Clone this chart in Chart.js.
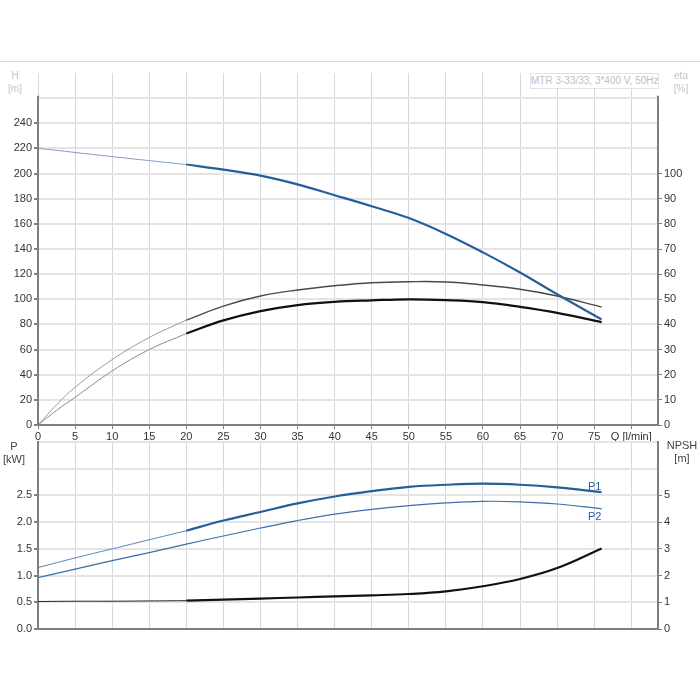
<!DOCTYPE html>
<html>
<head>
<meta charset="utf-8">
<script src="https://cdn.jsdelivr.net/npm/chart.js@4/dist/chart.umd.min.js"></script>
<style>
  body { margin: 0; background: #fff; font-family: 'Liberation Sans', Arial, sans-serif; }
  #page { position: relative; width: 700px; height: 700px; overflow: hidden; }
  #page canvas { position: absolute; left: 0; top: 0; }
  .rule { position: absolute; left: 0; top: 61px; width: 700px; height: 1px; background: #d9d9d9; }
  .ttl { position: absolute; width: 40px; text-align: center; font-size: 10px; line-height: 13px; z-index: 3; }
  .ttl.light { color: #c4c4c4; }
  .ttl.dark  { color: #444; font-size: 11px; }
  .box {
    position: absolute; left: 530px; top: 73px; width: 127px; height: 14px;
    border: 1px solid #e2e2e2; background: #fff; color: #c0c0c0;
    font-size: 10px; line-height: 14px; text-align: center; z-index: 3; white-space: nowrap;
  }
</style>
</head>
<body>
<div id="page">
  <div class="rule"></div>
  <canvas id="qhChart" width="700" height="700"></canvas>
  <canvas id="powerChart" width="700" height="700"></canvas>
  <div class="ttl light" style="left:-5px;top:69px">H<br>[m]</div>
  <div class="ttl light" style="left:661px;top:69px">eta<br>[%]</div>
  <div class="ttl dark" style="left:-6px;top:440px">P<br>[kW]</div>
  <div class="ttl dark" style="left:662px;top:439px">NPSH<br>[m]</div>
  <div class="box">MTR 3-33/33, 3*400 V, 50Hz</div>
</div>
<script>
/* ---------- data ---------- */
const flowLow   = [0, 2.5, 5, 10, 15, 20];
const flowMain  = [20, 25, 30, 35, 40, 45, 50, 55, 60, 65, 70, 76];
const flowPLow  = [0, 5, 10, 15, 20];
const flowP2    = [0, 5, 10, 15, 20, 25, 30, 35, 40, 45, 50, 55, 60, 65, 70, 76];

const headLow   = [220, 218.5, 216.8, 213.5, 210.3, 207.2];
const headMain  = [207.2, 203.2, 198.4, 191.4, 182.8, 174, 164.6, 152, 137.3, 121.3, 104, 84];

const etaPumpLow   = [0, 8, 15, 26, 34.8, 41.7];
const etaPumpMain  = [41.7, 47.3, 51.3, 53.7, 55.4, 56.6, 57, 56.9, 55.7, 54, 51.3, 46.9];
const etaTotalLow  = [0, 5.8, 11, 21.5, 30, 36.4];
const etaTotalMain = [36.4, 41.6, 45.3, 47.7, 49, 49.6, 50, 49.7, 48.9, 47, 44.6, 40.9];

const p1Low   = [1.15, 1.33, 1.50, 1.67, 1.84];
const p1Main  = [1.84, 2.03, 2.19, 2.35, 2.48, 2.58, 2.66, 2.70, 2.72, 2.70, 2.65, 2.56];
const p2All   = [0.96, 1.12, 1.28, 1.43, 1.59, 1.74, 1.89, 2.03, 2.15, 2.24, 2.31, 2.36, 2.39, 2.38, 2.34, 2.25];
const npshLow  = [1.03, 1.04, 1.04, 1.05, 1.06];
const npshMain = [1.06, 1.10, 1.14, 1.18, 1.22, 1.26, 1.31, 1.41, 1.60, 1.87, 2.28, 3.01];

const qTicksLast  = 75;    // last numeric Q label, next tick carries the unit
const headLabelMax = 240;
const etaLabelMax  = 100;
const pLabelMax    = 2.5;
const npshLabelMax = 5;

/* ---------- helpers ---------- */
const zip = (xs, ys) => xs.map((x, i) => ({ x, y: ys[i] }));

const BLUE  = '#245f9c';
const GRID_H = '#e4e4e4';
const GRID_V = '#d4d7db';
const AXIS  = '#7f7f7f';
const TXT   = '#333';
const FONT  = { family: "'Liberation Sans', Arial, sans-serif", size: 11 };

function line(data, color, width, axis) {
  return {
    data, borderColor: color, borderWidth: width, yAxisID: axis,
    pointRadius: 0, fill: false, tension: 0.4
  };
}

const fixW = w => scale => { scale.width = w; };
const fixH = h => scale => { scale.height = h; };

function xScale(showLabels) {
  return {
    type: 'linear', min: 0, max: 83.6,
    afterFit: fixH(showLabels ? 20 : 0),
    ticks: {
      display: showLabels, stepSize: 5, includeBounds: false,
      color: TXT, font: FONT, padding: 1, maxRotation: 0, autoSkip: false,
      callback: v => v <= qTicksLast ? v : (v === 80 ? 'Q [l/min]' : '')
    },
    grid: { color: GRID_V, lineWidth: 1, drawTicks: showLabels, tickLength: 4, tickColor: AXIS },
    border: { display: true, color: AXIS, width: 2 }
  };
}

/* top chart: y axis lines start a bit below the grid top */
const partialAxes = {
  id: 'partialAxes',
  afterDraw(chart) {
    const { ctx, chartArea } = chart;
    const yTop = chart.scales.yH.getPixelForValue(262);
    ctx.save();
    ctx.strokeStyle = AXIS;
    ctx.lineWidth = 2;
    ctx.beginPath();
    ctx.moveTo(chartArea.left, yTop);  ctx.lineTo(chartArea.left, chartArea.bottom);
    ctx.moveTo(chartArea.right, yTop); ctx.lineTo(chartArea.right, chartArea.bottom);
    ctx.stroke();
    ctx.restore();
  }
};

/* bottom chart: P1 / P2 curve names at the curve ends */
const curveNames = {
  id: 'curveNames',
  afterDatasetsDraw(chart) {
    const { ctx, scales } = chart;
    const xEnd = scales.x.getPixelForValue(flowMain[flowMain.length - 1]);
    const y1 = scales.yP.getPixelForValue(p1Main[p1Main.length - 1]);
    const y2 = scales.yP.getPixelForValue(p2All[p2All.length - 1]);
    ctx.save();
    ctx.fillStyle = BLUE;
    ctx.font = "11px 'Liberation Sans', Arial, sans-serif";
    ctx.textAlign = 'center';
    ctx.textBaseline = 'middle';
    ctx.fillText('P1', xEnd - 7, y1 - 5);
    ctx.fillText('P2', xEnd - 7, y2 + 8);
    ctx.restore();
  }
};

/* ---------- Q-H / eta chart ---------- */
new Chart(document.getElementById('qhChart'), {
  type: 'line',
  data: {
    datasets: [
      line(zip(flowLow, headLow),   '#7f9dc2', 1, 'yH'),
      line(zip(flowMain, headMain), BLUE, 2.2, 'yH'),
      line(zip(flowLow, etaPumpLow),    '#9a9a9a', 1, 'yEta'),
      line(zip(flowMain, etaPumpMain),  '#4a4a4a', 1.4, 'yEta'),
      line(zip(flowLow, etaTotalLow),   '#8a8a8a', 1, 'yEta'),
      line(zip(flowMain, etaTotalMain), '#111', 2.2, 'yEta')
    ]
  },
  options: {
    responsive: false,
    animation: false,
    layout: { padding: { top: 73, bottom: 255, left: 0, right: 0 } },
    plugins: { legend: { display: false }, tooltip: { enabled: false } },
    scales: {
      x: xScale(true),
      yH: {
        position: 'left', min: 0, max: 280,
        afterFit: fixW(38),
        ticks: {
          stepSize: 20, includeBounds: false, color: TXT, font: FONT, padding: 2,
          callback: v => v <= headLabelMax ? v : ''
        },
        grid: {
          color: c => c.tick.value >= 280 ? 'transparent' : GRID_H,
          lineWidth: 2, tickLength: 4,
          tickColor: c => c.tick.value <= headLabelMax ? AXIS : 'transparent'
        },
        border: { display: false }
      },
      yEta: {
        position: 'right', min: 0, max: 140,
        afterFit: fixW(42),
        ticks: {
          stepSize: 10, includeBounds: false, color: TXT, font: FONT, padding: 2,
          callback: v => v <= etaLabelMax ? v : ''
        },
        grid: {
          drawOnChartArea: false, tickLength: 4,
          tickColor: c => c.tick.value <= etaLabelMax ? AXIS : 'transparent'
        },
        border: { display: false }
      }
    }
  },
  plugins: [partialAxes]
});

/* ---------- power / NPSH chart ---------- */
new Chart(document.getElementById('powerChart'), {
  type: 'line',
  data: {
    datasets: [
      line(zip(flowPLow, p1Low),   '#5b84b8', 1, 'yP'),
      line(zip(flowMain, p1Main),  BLUE, 2.2, 'yP'),
      line(zip(flowP2, p2All),     '#3a6fac', 1.2, 'yP'),
      line(zip(flowPLow, npshLow),  '#222', 1, 'yN'),
      line(zip(flowMain, npshMain), '#111', 2.2, 'yN')
    ]
  },
  options: {
    responsive: false,
    animation: false,
    layout: { padding: { top: 442, bottom: 71, left: 0, right: 0 } },
    plugins: { legend: { display: false }, tooltip: { enabled: false } },
    scales: {
      x: xScale(false),
      yP: {
        position: 'left', min: 0, max: 3.5,
        afterFit: fixW(38),
        ticks: {
          stepSize: 0.5, includeBounds: false, color: TXT, font: FONT, padding: 2,
          callback: v => v <= pLabelMax ? v.toFixed(1) : ''
        },
        grid: {
          color: GRID_H, lineWidth: 2, tickLength: 4,
          tickColor: c => c.tick.value <= pLabelMax ? AXIS : 'transparent'
        },
        border: { display: true, color: AXIS, width: 2 }
      },
      yN: {
        position: 'right', min: 0, max: 7,
        afterFit: fixW(42),
        ticks: {
          stepSize: 1, includeBounds: false, color: TXT, font: FONT, padding: 2,
          callback: v => v <= npshLabelMax ? v : ''
        },
        grid: {
          drawOnChartArea: false, tickLength: 4,
          tickColor: c => c.tick.value <= npshLabelMax ? AXIS : 'transparent'
        },
        border: { display: true, color: AXIS, width: 2 }
      }
    }
  },
  plugins: [curveNames]
});
</script>
</body>
</html>
